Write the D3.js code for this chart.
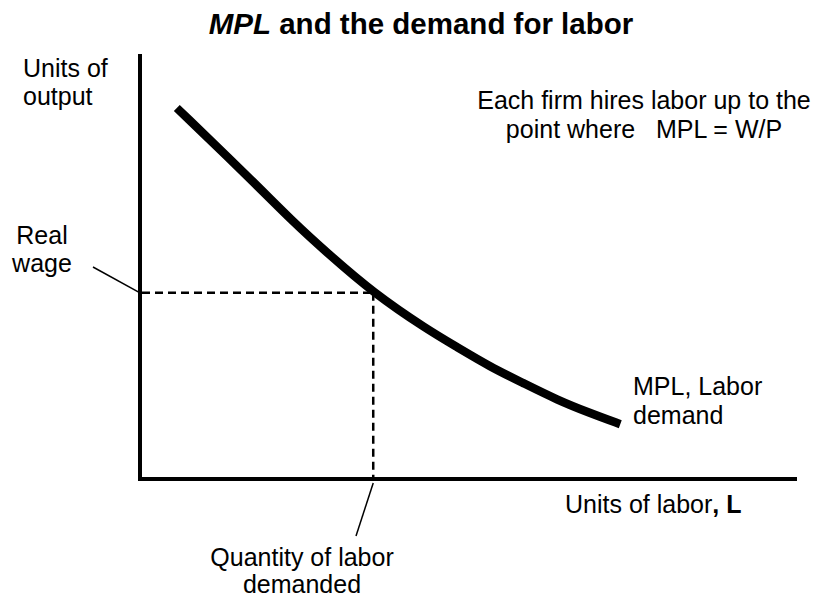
<!DOCTYPE html>
<html>
<head>
<meta charset="utf-8">
<script src="https://cdn.jsdelivr.net/npm/d3@7"></script>
<style>
  body { margin: 0; background: #fff; }
  text { font-family: Arial, 'Liberation Sans', sans-serif; fill: #000; }
</style>
</head>
<body>
<div id="canvas"></div>
<script>
/* global d3 */

// labor (L) and MPL values, in arbitrary units 0..100
var laborL = [5.6, 16.7, 23.3, 28.5, 35.5, 43.8, 48.2, 53.3, 58.3, 63.5, 68.5, 73.1]
var mplValues = [87.3, 70.8, 60.5, 53.2, 43.8, 35.1, 31.1, 26.4, 22.6, 18.6, 15.5, 12.9]

var realWage = 43.8
var laborDemanded = 35.5

var titleParts = ['MPL', ' and the demand for labor']
var yLabelLines = ['Units of', 'output']
var xLabelParts = ['Units of labor', ', L']
var wageLabelLines = ['Real', 'wage']
var qtyLabelLines = ['Quantity of labor', 'demanded']
var curveLabelLines = ['MPL, Labor', 'demand']
var noteLines = ['Each firm hires labor up to the', 'point where   MPL = W/P']

var width = 817,
  height = 597

var svg = d3.select('#canvas')
  .append('svg')
  .attr('width', width)
  .attr('height', height)

var x = d3.scaleLinear()
  .domain([0, 100])
  .range([140, 797])

var y = d3.scaleLinear()
  .domain([0, 100])
  .range([479, 54])

// title
var title = svg.append('text')
  .attr('x', 421)
  .attr('y', 34)
  .attr('text-anchor', 'middle')
  .style('font-size', '29.5px')
  .style('font-weight', 'bold')
title.append('tspan')
  .style('font-style', 'italic')
  .text(titleParts[0])
title.append('tspan')
  .text(titleParts[1])

// axes
svg.append('line')
  .attr('x1', x(0)).attr('y1', y(100))
  .attr('x2', x(0)).attr('y2', y(0) + 2)
  .attr('stroke', '#000')
  .attr('stroke-width', 4)

svg.append('line')
  .attr('x1', x(0) - 2).attr('y1', y(0))
  .attr('x2', x(100)).attr('y2', y(0))
  .attr('stroke', '#000')
  .attr('stroke-width', 4)

// dashed guides
svg.append('line')
  .attr('x1', x(0) + 2).attr('y1', y(realWage))
  .attr('x2', x(laborDemanded)).attr('y2', y(realWage))
  .attr('stroke', '#000')
  .attr('stroke-width', 2.5)
  .attr('stroke-dasharray', '8,5')

svg.append('line')
  .attr('x1', x(laborDemanded)).attr('y1', y(realWage))
  .attr('x2', x(laborDemanded)).attr('y2', y(0) - 2)
  .attr('stroke', '#000')
  .attr('stroke-width', 2.5)
  .attr('stroke-dasharray', '8,5')

// MPL curve
var pts = laborL.map((l, i) => [l, mplValues[i]])
svg.append('path')
  .datum(pts)
  .attr('d', d3.line()
    .x(d => x(d[0]))
    .y(d => y(d[1]))
    .curve(d3.curveBasis))
  .attr('fill', 'none')
  .attr('stroke', '#000')
  .attr('stroke-width', 8.5)

// leader lines
svg.append('line')
  .attr('x1', 93).attr('y1', 267)
  .attr('x2', x(0)).attr('y2', y(realWage))
  .attr('stroke', '#000')
  .attr('stroke-width', 1.5)

svg.append('line')
  .attr('x1', x(laborDemanded)).attr('y1', y(0) + 4)
  .attr('x2', 356).attr('y2', 536)
  .attr('stroke', '#000')
  .attr('stroke-width', 1.5)

// labels
function lines (arr, px, py, anchor, lh) {
  var t = svg.append('text')
    .attr('x', px)
    .attr('y', py)
    .attr('text-anchor', anchor)
    .attr('xml:space', 'preserve')
    .style('font-size', '25px')
    .style('white-space', 'pre')
  arr.forEach((s, i) => {
    t.append('tspan')
      .attr('x', px)
      .attr('dy', i === 0 ? 0 : lh)
      .text(s)
  })
  return t
}

lines(yLabelLines, 23, 77, 'start', 28)
lines(wageLabelLines, 42, 244, 'middle', 28)
lines(noteLines, 644, 109, 'middle', 29)
lines(curveLabelLines, 633, 395, 'start', 29)
lines(qtyLabelLines, 302, 566, 'middle', 27)

var xl = svg.append('text')
  .attr('x', 565)
  .attr('y', 513)
  .style('font-size', '25px')
xl.append('tspan').text(xLabelParts[0])
xl.append('tspan').style('font-weight', 'bold').text(xLabelParts[1])
</script>
</body>
</html>
